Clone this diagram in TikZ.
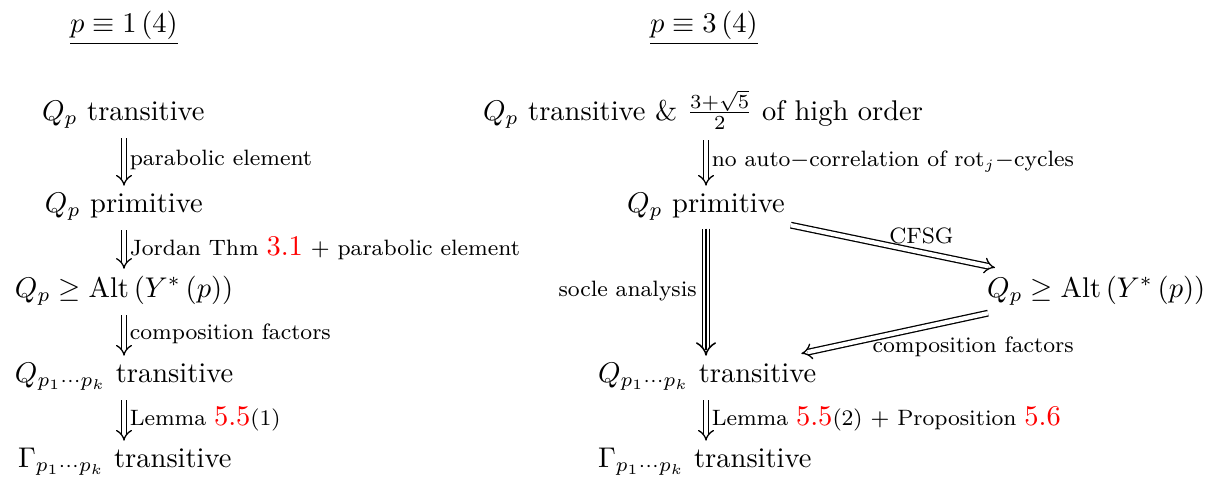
\documentclass[tikz,border=0pt]{standalone}
\usetikzlibrary{arrows.meta,calc}
\begin{document}
\begin{tikzpicture}[x=0.3508pt,y=-0.3508pt,
  stmt/.style={inner sep=0pt, outer sep=0pt, anchor=base west},
  lab/.style={font=\fontsize{7.8}{9.5}\selectfont, inner sep=1.8pt},
  dbl/.style={double, double distance=1.5pt, line width=0.45pt, -{Implies},
              shorten <=3.6pt, shorten >=2.4pt},
  tripleouter/.style={double, double distance=1.9pt, line width=0.55pt, -{Implies},
              shorten <=3pt, shorten >=2.4pt},
  triplemid/.style={line width=0.55pt, shorten <=3pt, shorten >=4.5pt}]
\useasboundingbox (0,0) rectangle (1217,477);
\newcommand{\rn}[1]{{\fontsize{10}{12}\selectfont\textcolor{red}{#1}}}

% titles
\node[stmt] (tL) at (70,32) {$\underline{p\equiv 1\,(4)}$};
\node[stmt] (tR) at (650,32) {$\underline{p\equiv 3\,(4)}$};

% left column
\node[stmt] (a1) at (42,120) {$Q_p$ transitive};
\node[stmt] (a2) at (45,212) {$Q_p$ primitive};
\node[stmt] (a3) at (15,297) {$Q_p\geq\mathrm{Alt}\left(Y^{*}\left(p\right)\right)$};
\node[stmt] (a4) at (15,382) {$Q_{p_1\cdots p_k}$\ transitive};
\node[stmt] (a5) at (18,467) {$\Gamma_{p_1\cdots p_k}$\ transitive};

% right column
\node[stmt] (b1) at (483,120) {$Q_p$ transitive \& $\frac{3+\sqrt{5}}{2}$ of high order};
\node[stmt] (b2) at (627,212) {$Q_p$ primitive};
\node[stmt] (b3) at (987,297) {$Q_p\geq\mathrm{Alt}\left(Y^{*}\left(p\right)\right)$};
\node[stmt] (b4) at (598,382) {$Q_{p_1\cdots p_k}$\ transitive};
\node[stmt] (b5) at (598,467) {$\Gamma_{p_1\cdots p_k}$\ transitive};

\coordinate (cL) at (124,0);
\coordinate (cR) at (706,0);

% left arrows
\draw[dbl] (a1.south -| cL) -- (a2.north -| cL)
  node[midway, right, lab] {parabolic element};
\draw[dbl] (a2.south -| cL) -- (a3.north -| cL)
  node[midway, right, lab] {Jordan Thm \rn{3.1} $+$ parabolic element};
\draw[dbl] (a3.south -| cL) -- (a4.north -| cL)
  node[midway, right, lab] {composition factors};
\draw[dbl] (a4.south -| cL) -- (a5.north -| cL)
  node[midway, right, lab] {Lemma \rn{5.5}(1)};

% right arrows
\draw[dbl] (b1.south -| cR) -- (b2.north -| cR)
  node[midway, right, lab] {no auto$-$correlation of rot$_j-$cycles};
\draw[tripleouter] (b2.south -| cR) -- (b4.north -| cR)
  node[midway, left, lab, inner sep=3pt] {socle analysis};
\draw[triplemid] (b2.south -| cR) -- (b4.north -| cR);
\draw[dbl] (b4.south -| cR) -- (b5.north -| cR)
  node[midway, right, lab] {Lemma \rn{5.5}(2) $+$ Proposition \rn{5.6}};

\draw[dbl, shorten <=0pt, shorten >=0pt] ($(b2.south east)+(6,5)$) -- ($(b3.north west)+(8,-8)$)
  node[pos=0.64, above=1pt, lab] {CFSG};
\draw[dbl, shorten <=0pt, shorten >=0pt] ($(b3.south west)+(1,8)$) -- ($(b4.north east)+(-15,-9)$)
  node[pos=0.08, below=5pt, lab] {composition factors};
\end{tikzpicture}
\end{document}
